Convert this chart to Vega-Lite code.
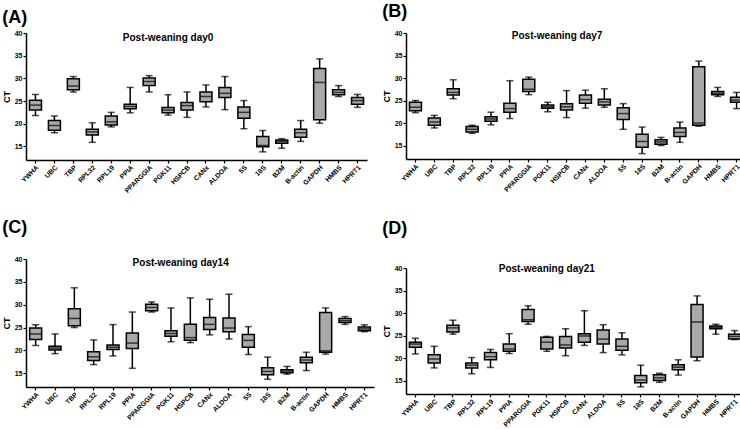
{
  "$schema": "https://vega.github.io/schema/vega-lite/v6.json",
  "padding": {"left": 2, "top": 3, "right": 0, "bottom": 0},
  "background": "white",
  "config": {
    "view": {"stroke": null},
    "font": "Liberation Sans",
    "axis": {"domainColor": "black", "domainWidth": 1.5, "tickColor": "black", "tickWidth": 1.2, "tickSize": 3, "labelColor": "black", "labelFont": "Liberation Sans", "labelFontWeight": "bold", "grid": false, "labelOverlap": false},
    "title": {"anchor": "start", "frame": "bounds", "fontSize": 18, "fontWeight": "bold", "color": "black", "font": "Liberation Sans"}
  },
  "datasets": {
    "ct": [
      {"day": "day0", "gene": "YWHA", "min": 21.8, "q1": 23.0, "med": 24.1, "q3": 25.2, "max": 26.45},
      {"day": "day0", "gene": "UBC", "min": 18.0, "q1": 18.55, "med": 19.6, "q3": 20.7, "max": 21.7},
      {"day": "day0", "gene": "TBP", "min": 27.0, "q1": 27.5, "med": 28.3, "q3": 29.9, "max": 30.4},
      {"day": "day0", "gene": "RPL32", "min": 15.9, "q1": 17.5, "med": 18.2, "q3": 18.8, "max": 20.2},
      {"day": "day0", "gene": "RPL19", "min": 19.3, "q1": 19.7, "med": 20.4, "q3": 21.7, "max": 22.5},
      {"day": "day0", "gene": "PPIA", "min": 22.4, "q1": 23.3, "med": 23.8, "q3": 24.3, "max": 28.0},
      {"day": "day0", "gene": "PPARGGIA", "min": 27.0, "q1": 28.4, "med": 29.3, "q3": 30.1, "max": 30.6},
      {"day": "day0", "gene": "PGK11", "min": 21.9, "q1": 22.4, "med": 23.0, "q3": 23.6, "max": 26.4},
      {"day": "day0", "gene": "HSPCB", "min": 21.4, "q1": 23.0, "med": 24.0, "q3": 24.7, "max": 27.0},
      {"day": "day0", "gene": "CANx", "min": 23.7, "q1": 24.85, "med": 26.0, "q3": 27.0, "max": 28.55},
      {"day": "day0", "gene": "ALDOA", "min": 23.1, "q1": 25.8, "med": 26.7, "q3": 28.0, "max": 30.4},
      {"day": "day0", "gene": "5S", "min": 18.9, "q1": 21.2, "med": 22.5, "q3": 23.7, "max": 25.1},
      {"day": "day0", "gene": "18S", "min": 13.8, "q1": 14.9, "med": 15.2, "q3": 17.2, "max": 18.5},
      {"day": "day0", "gene": "B2M", "min": 14.6, "q1": 15.7, "med": 16.1, "q3": 16.4, "max": 16.7},
      {"day": "day0", "gene": "B-actin", "min": 16.1, "q1": 17.0, "med": 18.0, "q3": 18.8, "max": 20.7},
      {"day": "day0", "gene": "GAPDH", "min": 20.1, "q1": 20.9, "med": 29.1, "q3": 32.2, "max": 34.3},
      {"day": "day0", "gene": "HMBS", "min": 26.0, "q1": 26.4, "med": 26.9, "q3": 27.5, "max": 28.4},
      {"day": "day0", "gene": "HPRT1", "min": 23.6, "q1": 24.3, "med": 25.1, "q3": 25.8, "max": 26.45},

      {"day": "day7", "gene": "YWHA", "min": 22.3, "q1": 22.7, "med": 23.5, "q3": 24.6, "max": 25.0},
      {"day": "day7", "gene": "UBC", "min": 18.9, "q1": 19.5, "med": 20.2, "q3": 21.1, "max": 21.7},
      {"day": "day7", "gene": "TBP", "min": 25.4, "q1": 26.2, "med": 26.8, "q3": 27.6, "max": 29.6},
      {"day": "day7", "gene": "RPL32", "min": 17.7, "q1": 18.0, "med": 18.6, "q3": 19.2, "max": 19.5},
      {"day": "day7", "gene": "RPL19", "min": 19.6, "q1": 20.4, "med": 20.9, "q3": 21.4, "max": 22.4},
      {"day": "day7", "gene": "PPIA", "min": 21.0, "q1": 22.4, "med": 23.2, "q3": 24.4, "max": 29.4},
      {"day": "day7", "gene": "PPARGGIA", "min": 26.3, "q1": 27.0, "med": 27.5, "q3": 29.7, "max": 30.2},
      {"day": "day7", "gene": "PGK11", "min": 22.5, "q1": 23.3, "med": 23.6, "q3": 24.0, "max": 24.6},
      {"day": "day7", "gene": "HSPCB", "min": 21.2, "q1": 22.9, "med": 23.6, "q3": 24.3, "max": 27.2},
      {"day": "day7", "gene": "CANx", "min": 23.3, "q1": 24.4, "med": 25.2, "q3": 26.2, "max": 27.3},
      {"day": "day7", "gene": "ALDOA", "min": 23.5, "q1": 24.0, "med": 24.7, "q3": 25.3, "max": 27.6},
      {"day": "day7", "gene": "5S", "min": 18.6, "q1": 20.8, "med": 22.1, "q3": 23.4, "max": 24.3},
      {"day": "day7", "gene": "18S", "min": 13.2, "q1": 14.6, "med": 15.9, "q3": 17.5, "max": 19.1},
      {"day": "day7", "gene": "B2M", "min": 15.0, "q1": 15.3, "med": 15.8, "q3": 16.3, "max": 16.8},
      {"day": "day7", "gene": "B-actin", "min": 15.7, "q1": 17.0, "med": 17.9, "q3": 18.9, "max": 20.2},
      {"day": "day7", "gene": "GAPDH", "min": 19.3, "q1": 19.5, "med": 20.0, "q3": 32.5, "max": 33.75},
      {"day": "day7", "gene": "HMBS", "min": 25.9, "q1": 26.3, "med": 26.6, "q3": 27.0, "max": 27.9},
      {"day": "day7", "gene": "HPRT1", "min": 23.2, "q1": 24.6, "med": 25.1, "q3": 25.7, "max": 26.8},

      {"day": "day14", "gene": "YWHA", "min": 21.1, "q1": 22.4, "med": 23.6, "q3": 24.9, "max": 25.6},
      {"day": "day14", "gene": "UBC", "min": 19.3, "q1": 20.1, "med": 20.5, "q3": 20.9, "max": 23.6},
      {"day": "day14", "gene": "TBP", "min": 25.0, "q1": 25.4, "med": 27.0, "q3": 29.1, "max": 33.7},
      {"day": "day14", "gene": "RPL32", "min": 16.9, "q1": 17.8, "med": 18.6, "q3": 19.7, "max": 22.3},
      {"day": "day14", "gene": "RPL19", "min": 18.8, "q1": 20.2, "med": 20.7, "q3": 21.2, "max": 25.65},
      {"day": "day14", "gene": "PPIA", "min": 16.1, "q1": 20.4, "med": 21.6, "q3": 23.8, "max": 28.4},
      {"day": "day14", "gene": "PPARGGIA", "min": 28.4, "q1": 28.7, "med": 29.4, "q3": 30.1, "max": 30.6},
      {"day": "day14", "gene": "PGK11", "min": 21.9, "q1": 23.1, "med": 23.7, "q3": 24.3, "max": 29.3},
      {"day": "day14", "gene": "HSPCB", "min": 21.7, "q1": 22.2, "med": 22.8, "q3": 25.7, "max": 31.5},
      {"day": "day14", "gene": "CANx", "min": 23.4, "q1": 24.6, "med": 25.7, "q3": 27.2, "max": 31.2},
      {"day": "day14", "gene": "ALDOA", "min": 22.5, "q1": 24.1, "med": 24.9, "q3": 27.1, "max": 32.3},
      {"day": "day14", "gene": "5S", "min": 19.1, "q1": 20.7, "med": 22.2, "q3": 23.5, "max": 25.2},
      {"day": "day14", "gene": "18S", "min": 13.7, "q1": 14.7, "med": 15.4, "q3": 16.2, "max": 18.55},
      {"day": "day14", "gene": "B2M", "min": 14.8, "q1": 15.1, "med": 15.5, "q3": 15.8, "max": 16.5},
      {"day": "day14", "gene": "B-actin", "min": 15.6, "q1": 17.3, "med": 17.9, "q3": 18.5, "max": 19.6},
      {"day": "day14", "gene": "GAPDH", "min": 19.2, "q1": 19.6, "med": 19.9, "q3": 28.3, "max": 29.3},
      {"day": "day14", "gene": "HMBS", "min": 25.7, "q1": 26.1, "med": 26.5, "q3": 27.0, "max": 27.4},
      {"day": "day14", "gene": "HPRT1", "min": 24.1, "q1": 24.3, "med": 24.7, "q3": 25.1, "max": 25.6},

      {"day": "day21", "gene": "YWHA", "min": 20.9, "q1": 22.4, "med": 23.1, "q3": 23.5, "max": 24.4},
      {"day": "day21", "gene": "UBC", "min": 17.8, "q1": 18.9, "med": 19.8, "q3": 20.7, "max": 22.6},
      {"day": "day21", "gene": "TBP", "min": 25.3, "q1": 25.8, "med": 26.7, "q3": 27.3, "max": 28.4},
      {"day": "day21", "gene": "RPL32", "min": 16.5, "q1": 17.8, "med": 18.4, "q3": 18.9, "max": 20.1},
      {"day": "day21", "gene": "RPL19", "min": 17.9, "q1": 19.6, "med": 20.3, "q3": 21.2, "max": 21.9},
      {"day": "day21", "gene": "PPIA", "min": 21.0, "q1": 21.5, "med": 22.0, "q3": 23.1, "max": 25.4},
      {"day": "day21", "gene": "PPARGGIA", "min": 27.5, "q1": 28.1, "med": 28.5, "q3": 30.8, "max": 31.6},
      {"day": "day21", "gene": "PGK11", "min": 21.5, "q1": 22.0, "med": 23.5, "q3": 24.6, "max": 24.8},
      {"day": "day21", "gene": "HSPCB", "min": 20.5, "q1": 22.2, "med": 22.9, "q3": 24.8, "max": 26.5},
      {"day": "day21", "gene": "CANx", "min": 22.8, "q1": 23.5, "med": 24.9, "q3": 25.4, "max": 30.5},
      {"day": "day21", "gene": "ALDOA", "min": 21.2, "q1": 23.1, "med": 24.2, "q3": 26.2, "max": 27.4},
      {"day": "day21", "gene": "5S", "min": 20.7, "q1": 21.7, "med": 22.6, "q3": 24.2, "max": 25.6},
      {"day": "day21", "gene": "18S", "min": 13.6, "q1": 14.5, "med": 15.1, "q3": 16.1, "max": 18.4},
      {"day": "day21", "gene": "B2M", "min": 14.6, "q1": 15.0, "med": 15.6, "q3": 16.3, "max": 16.6},
      {"day": "day21", "gene": "B-actin", "min": 16.2, "q1": 17.4, "med": 17.95, "q3": 18.5, "max": 19.6},
      {"day": "day21", "gene": "GAPDH", "min": 19.4, "q1": 20.2, "med": 28.0, "q3": 31.9, "max": 33.8},
      {"day": "day21", "gene": "HMBS", "min": 25.3, "q1": 26.5, "med": 26.8, "q3": 27.1, "max": 27.5},
      {"day": "day21", "gene": "HPRT1", "min": 24.1, "q1": 24.2, "med": 24.8, "q3": 25.3, "max": 26.1}
    ]
  },
  "columns": 2,
  "align": "none",
  "spacing": {"row": 24, "column": 8},
  "concat": [
    {
      "title": {"text": "(A)", "offset": 2.5},
      "width": 341, "height": 127,
      "layer": [
        {
          "data": {"name": "ct"},
          "transform": [{"filter": "datum.day == 'day0'"}],
          "encoding": {"x": {"field": "gene", "type": "nominal", "sort": null, "scale": {"paddingInner": 0, "paddingOuter": 0}, "axis": {"title": null, "labelAngle": -45, "labelFontSize": 6.8, "labelPadding": 1}}},
          "layer": [
            {"mark": {"type": "rule", "color": "black", "strokeWidth": 1.5}, "encoding": {"y": {"field": "min", "type": "quantitative", "scale": {"domain": [12, 40], "nice": false, "zero": false}, "axis": {"title": "CT", "titleFontSize": 9, "titleFontWeight": "bold", "titleColor": "black", "titlePadding": 3, "values": [15, 20, 25, 30, 35, 40], "labelFontSize": 7, "labelPadding": 1, "labelOverlap": false}}, "y2": {"field": "max"}}},
            {"mark": {"type": "bar", "size": 12, "fill": "#a9a9ad", "stroke": "black", "strokeWidth": 1.5}, "encoding": {"y": {"field": "q1", "type": "quantitative", "axis": {"title": "CT", "values": [15, 20, 25, 30, 35, 40], "labelOverlap": false}}, "y2": {"field": "q3"}}},
            {"mark": {"type": "tick", "size": 12, "color": "black", "thickness": 1.5}, "encoding": {"y": {"field": "med", "type": "quantitative", "axis": {"title": "CT", "values": [15, 20, 25, 30, 35, 40], "labelOverlap": false}}}},
            {"mark": {"type": "tick", "size": 7, "color": "black", "thickness": 1.5}, "encoding": {"y": {"field": "min", "type": "quantitative", "axis": {"title": "CT", "values": [15, 20, 25, 30, 35, 40], "labelOverlap": false}}}},
            {"mark": {"type": "tick", "size": 7, "color": "black", "thickness": 1.5}, "encoding": {"y": {"field": "max", "type": "quantitative", "axis": {"title": "CT", "values": [15, 20, 25, 30, 35, 40], "labelOverlap": false}}}}
          ]
        },
        {
          "data": {"values": [{}]},
          "mark": {"type": "text", "fontSize": 10, "fontWeight": "bold", "color": "black", "baseline": "middle"},
          "encoding": {"x": {"datum": "PGK11", "type": "nominal"}, "y": {"datum": 39, "type": "quantitative", "axis": {"title": "CT", "values": [15, 20, 25, 30, 35, 40], "labelOverlap": false}}, "text": {"value": "Post-weaning day0"}}
        }
      ]
    },
    {
      "title": {"text": "(B)", "offset": 8},
      "width": 340, "height": 126,
      "layer": [
        {
          "data": {"name": "ct"},
          "transform": [{"filter": "datum.day == 'day7'"}],
          "encoding": {"x": {"field": "gene", "type": "nominal", "sort": null, "scale": {"paddingInner": 0, "paddingOuter": 0}, "axis": {"title": null, "labelAngle": -45, "labelFontSize": 6.8, "labelPadding": 1}}},
          "layer": [
            {"mark": {"type": "rule", "color": "black", "strokeWidth": 1.5}, "encoding": {"y": {"field": "min", "type": "quantitative", "scale": {"domain": [12, 40], "nice": false, "zero": false}, "axis": {"title": "CT", "titleFontSize": 9, "titleFontWeight": "bold", "titleColor": "black", "titlePadding": 3, "values": [15, 20, 25, 30, 35, 40], "labelFontSize": 7, "labelPadding": 1, "labelOverlap": false}}, "y2": {"field": "max"}}},
            {"mark": {"type": "bar", "size": 12, "fill": "#a9a9ad", "stroke": "black", "strokeWidth": 1.5}, "encoding": {"y": {"field": "q1", "type": "quantitative", "axis": {"title": "CT", "values": [15, 20, 25, 30, 35, 40], "labelOverlap": false}}, "y2": {"field": "q3"}}},
            {"mark": {"type": "tick", "size": 12, "color": "black", "thickness": 1.5}, "encoding": {"y": {"field": "med", "type": "quantitative", "axis": {"title": "CT", "values": [15, 20, 25, 30, 35, 40], "labelOverlap": false}}}},
            {"mark": {"type": "tick", "size": 7, "color": "black", "thickness": 1.5}, "encoding": {"y": {"field": "min", "type": "quantitative", "axis": {"title": "CT", "values": [15, 20, 25, 30, 35, 40], "labelOverlap": false}}}},
            {"mark": {"type": "tick", "size": 7, "color": "black", "thickness": 1.5}, "encoding": {"y": {"field": "max", "type": "quantitative", "axis": {"title": "CT", "values": [15, 20, 25, 30, 35, 40], "labelOverlap": false}}}}
          ]
        },
        {
          "data": {"values": [{}]},
          "mark": {"type": "text", "fontSize": 10, "fontWeight": "bold", "color": "black", "baseline": "middle"},
          "encoding": {"x": {"datum": "PGK11", "type": "nominal", "bandPosition": 1}, "y": {"datum": 39.3, "type": "quantitative", "axis": {"title": "CT", "values": [15, 20, 25, 30, 35, 40], "labelOverlap": false}}, "text": {"value": "Post-weaning day7"}}
        }
      ]
    },
    {
      "title": {"text": "(C)", "offset": 17.7},
      "width": 348, "height": 128,
      "layer": [
        {
          "data": {"name": "ct"},
          "transform": [{"filter": "datum.day == 'day14'"}],
          "encoding": {"x": {"field": "gene", "type": "nominal", "sort": null, "scale": {"paddingInner": 0, "paddingOuter": 0}, "axis": {"title": null, "labelAngle": -45, "labelFontSize": 6.8, "labelPadding": 1}}},
          "layer": [
            {"mark": {"type": "rule", "color": "black", "strokeWidth": 1.5}, "encoding": {"y": {"field": "min", "type": "quantitative", "scale": {"domain": [12, 40], "nice": false, "zero": false}, "axis": {"title": "CT", "titleFontSize": 9, "titleFontWeight": "bold", "titleColor": "black", "titlePadding": 3, "values": [15, 20, 25, 30, 35, 40], "labelFontSize": 7, "labelPadding": 1, "labelOverlap": false}}, "y2": {"field": "max"}}},
            {"mark": {"type": "bar", "size": 12, "fill": "#a9a9ad", "stroke": "black", "strokeWidth": 1.5}, "encoding": {"y": {"field": "q1", "type": "quantitative", "axis": {"title": "CT", "values": [15, 20, 25, 30, 35, 40], "labelOverlap": false}}, "y2": {"field": "q3"}}},
            {"mark": {"type": "tick", "size": 12, "color": "black", "thickness": 1.5}, "encoding": {"y": {"field": "med", "type": "quantitative", "axis": {"title": "CT", "values": [15, 20, 25, 30, 35, 40], "labelOverlap": false}}}},
            {"mark": {"type": "tick", "size": 7, "color": "black", "thickness": 1.5}, "encoding": {"y": {"field": "min", "type": "quantitative", "axis": {"title": "CT", "values": [15, 20, 25, 30, 35, 40], "labelOverlap": false}}}},
            {"mark": {"type": "tick", "size": 7, "color": "black", "thickness": 1.5}, "encoding": {"y": {"field": "max", "type": "quantitative", "axis": {"title": "CT", "values": [15, 20, 25, 30, 35, 40], "labelOverlap": false}}}}
          ]
        },
        {
          "data": {"values": [{}]},
          "mark": {"type": "text", "fontSize": 10, "fontWeight": "bold", "color": "black", "baseline": "middle"},
          "encoding": {"x": {"datum": "PGK11", "type": "nominal", "bandPosition": 1}, "y": {"datum": 39.1, "type": "quantitative", "axis": {"title": "CT", "values": [15, 20, 25, 30, 35, 40], "labelOverlap": false}}, "text": {"value": "Post-weaning day14"}}
        }
      ]
    },
    {
      "title": {"text": "(D)", "offset": 26.2},
      "width": 338, "height": 126,
      "layer": [
        {
          "data": {"name": "ct"},
          "transform": [{"filter": "datum.day == 'day21'"}],
          "encoding": {"x": {"field": "gene", "type": "nominal", "sort": null, "scale": {"paddingInner": 0, "paddingOuter": 0}, "axis": {"title": null, "labelAngle": -45, "labelFontSize": 6.8, "labelPadding": 1}}},
          "layer": [
            {"mark": {"type": "rule", "color": "black", "strokeWidth": 1.5}, "encoding": {"y": {"field": "min", "type": "quantitative", "scale": {"domain": [12, 40], "nice": false, "zero": false}, "axis": {"title": "CT", "titleFontSize": 9, "titleFontWeight": "bold", "titleColor": "black", "titlePadding": 3, "values": [15, 20, 25, 30, 35, 40], "labelFontSize": 7, "labelPadding": 1, "labelOverlap": false}}, "y2": {"field": "max"}}},
            {"mark": {"type": "bar", "size": 12, "fill": "#a9a9ad", "stroke": "black", "strokeWidth": 1.5}, "encoding": {"y": {"field": "q1", "type": "quantitative", "axis": {"title": "CT", "values": [15, 20, 25, 30, 35, 40], "labelOverlap": false}}, "y2": {"field": "q3"}}},
            {"mark": {"type": "tick", "size": 12, "color": "black", "thickness": 1.5}, "encoding": {"y": {"field": "med", "type": "quantitative", "axis": {"title": "CT", "values": [15, 20, 25, 30, 35, 40], "labelOverlap": false}}}},
            {"mark": {"type": "tick", "size": 7, "color": "black", "thickness": 1.5}, "encoding": {"y": {"field": "min", "type": "quantitative", "axis": {"title": "CT", "values": [15, 20, 25, 30, 35, 40], "labelOverlap": false}}}},
            {"mark": {"type": "tick", "size": 7, "color": "black", "thickness": 1.5}, "encoding": {"y": {"field": "max", "type": "quantitative", "axis": {"title": "CT", "values": [15, 20, 25, 30, 35, 40], "labelOverlap": false}}}}
          ]
        },
        {
          "data": {"values": [{}]},
          "mark": {"type": "text", "fontSize": 10, "fontWeight": "bold", "color": "black", "baseline": "middle"},
          "encoding": {"x": {"datum": "PGK11", "type": "nominal"}, "y": {"datum": 39.7, "type": "quantitative", "axis": {"title": "CT", "values": [15, 20, 25, 30, 35, 40], "labelOverlap": false}}, "text": {"value": "Post-weaning day21"}}
        }
      ]
    }
  ]
}
